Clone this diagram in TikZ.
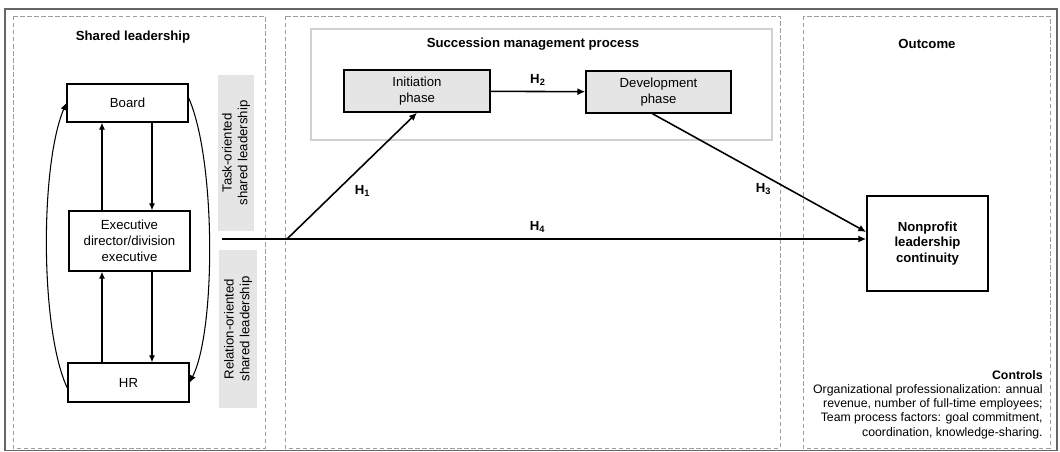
\documentclass[tikz,border=0pt]{standalone}
\usepackage{fontspec}
\setmainfont{Liberation Sans}
\usetikzlibrary{arrows.meta}

\definecolor{panelgray}{gray}{0.62}
\definecolor{boxfill}{gray}{0.9}
\definecolor{framegray}{gray}{0.4}
\definecolor{procgray}{gray}{0.82}

\begin{document}
\begin{tikzpicture}[x=0.02cm, y=-0.02cm,
	every node/.style={font=\fontsize{7.5}{9}\selectfont, inner sep=0pt},
	plainbox/.style={draw, line width=0.8pt, align=center, minimum width=2.42cm},
	phasebox/.style={draw, line width=0.8pt, fill=boxfill, align=center, minimum width=2.9cm, minimum height=0.84cm},
	sidebox/.style={fill=boxfill, rotate=90, align=center},
	panel/.style={draw=panelgray, dash pattern=on 2.5pt off 1.5pt, line width=0.5pt},
	thinarr/.style={-{Latex[length=4pt,width=3.5pt]}, line width=0.6pt},
	harr/.style={-{Latex[length=4.5pt,width=4pt]}, line width=0.9pt},
	title/.style={font=\bfseries\fontsize{7.5}{9}\selectfont},
	hlabel/.style={font=\bfseries\fontsize{7.5}{9}\selectfont}
]
	\useasboundingbox (0,0) rectangle (1060,451);
	\draw[framegray, line width=1pt] (5,9) rectangle (1057,450.5);
	\draw[panel] (13,16) rectangle (265,448);
	\draw[panel] (285,16) rectangle (780,448);
	\draw[panel] (803,16) rectangle (1050,448);
	\draw[procgray, line width=0.6pt] (311,29) rectangle (772,140);

	\node[title] (sltitle) at (133,37) {Shared leadership};
	\node[title] (smptitle) at (533,44) {Succession management process};
	\node[title] (outtitle) at (927,44) {Outcome};

	\node[plainbox, minimum height=0.76cm] (board) at (127.5,103) {Board};
	\node[plainbox, minimum height=1.2cm] (exec) at (129.5,241) {Executive\\director/division\\executive};
	\node[plainbox, minimum height=0.78cm] (hr) at (128.5,382.5) {HR};
	\node[sidebox, minimum width=3.12cm, minimum height=0.72cm] (task) at (236,153) {Task-oriented\\shared leadership};
	\node[sidebox, minimum width=3.16cm, minimum height=0.76cm] (rel) at (238,329) {Relation-oriented\\shared leadership};
	\node[phasebox, minimum width=2.92cm] (init) at (417,91) {Initiation\\phase};
	\node[phasebox] (dev) at (658.5,92) {Development\\phase};
	\node[plainbox, line width=0.9pt, minimum height=1.9cm, font=\bfseries\fontsize{7.5}{9}\selectfont] (cont) at (927.5,243.5) {Nonprofit\\leadership\\continuity};
	\node[anchor=north east, align=right, font=\fontsize{7}{8.1}\selectfont] (ctrl) at (1043,370) {\textbf{Controls}\\Organizational professionalization: annual\\revenue, number of full-time employees;\\Team process factors: goal commitment,\\coordination, knowledge-sharing.};

	\coordinate (lx) at (102,0);
	\coordinate (rx) at (152,0);
	\draw[thinarr] (exec.north -| lx) -- (board.south -| lx);
	\draw[thinarr] (board.south -| rx) -- (exec.north -| rx);
	\draw[thinarr] (hr.north -| lx) -- (exec.south -| lx);
	\draw[thinarr] (exec.south -| rx) -- (hr.north -| rx);
	\draw[thinarr] ([yshift=-0.11cm]hr.west) .. controls (40,330) and (40,165) .. (board.west);
	\draw[thinarr] ([yshift=0.1cm]board.east) .. controls (216,160) and (216,330) .. (hr.east);

	\coordinate (h4s) at (222,239);
	\coordinate (h1s) at (287,239);
	\draw[harr] (h4s) -- (cont.west |- h4s) node[hlabel, pos=0.49, above=3pt] {H\textsubscript{4}};
	\draw[harr] (h1s) -- (init.south) node[hlabel, pos=0.38, right=10pt] {H\textsubscript{1}};
	\draw[harr] (init) -- (dev) node[hlabel, midway, above=3pt] {H\textsubscript{2}};
	\draw[harr] ([xshift=-0.12cm]dev.south) -- ([yshift=0.23cm]cont.west) node[hlabel, pos=0.52, below=4pt] {H\textsubscript{3}};
\end{tikzpicture}
\end{document}
